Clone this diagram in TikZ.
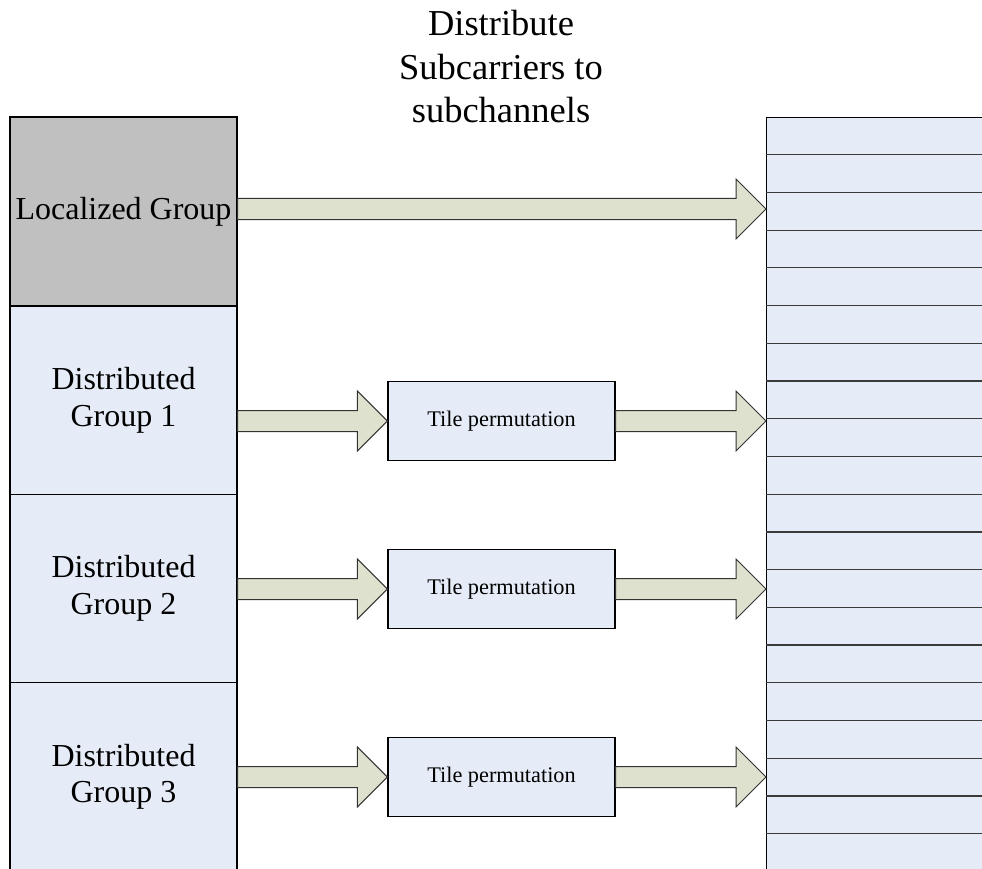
\documentclass[tikz,border=0pt]{standalone}
\usepackage{fontspec}
\setmainfont{Liberation Serif}
\usetikzlibrary{calc}
\definecolor{locgray}{HTML}{C0C0C0}
\definecolor{paleblue}{HTML}{E6ECF7}
\definecolor{arrowfill}{HTML}{DDE1CD}
\definecolor{ruleline}{HTML}{3A3A3A}
\newcommand\blockarr[2]{%
  \draw[blockarrow] let \p1=(#1), \p2=(#2) in
    (\x1,\y1+10.5pt) -- (\x2-30pt,\y1+10.5pt) -- (\x2-30pt,\y1+30pt) --
    (\x2,\y1) -- (\x2-30pt,\y1-30pt) -- (\x2-30pt,\y1-10.5pt) --
    (\x1,\y1-10.5pt) -- cycle;}
\begin{document}
\begin{tikzpicture}[x=1pt,y=-1pt,
  groupbox/.style={draw=black, line width=1.2pt, minimum width=227pt, inner sep=0pt,
    align=center, font=\fontsize{32}{36.7}\selectfont},
  tilebox/.style={draw=black, line width=1.2pt, fill=paleblue, minimum width=227pt,
    minimum height=79pt, inner sep=0pt, font=\fontsize{22.3}{26}\selectfont},
  blockarrow/.style={draw=black!80, line width=1pt, fill=arrowfill, line join=miter},
  rule/.style={draw=ruleline, line width=1.2pt},
  titletext/.style={align=center, inner sep=0pt, font=\fontsize{36.5}{43.5}\selectfont}]
\useasboundingbox (0,0) rectangle (982,869);
\clip (0,0) rectangle (982,869);
\fill[white] (0,0) rectangle (982,869);

% title
\node[titletext] (title) at (501,67) {Distribute\\Subcarriers to\\subchannels};

% left column of groups
\node[groupbox, fill=locgray, minimum height=189pt] (loc) at (123.5,211.5) {Localized Group};
\node[groupbox, fill=paleblue, minimum height=188.5pt] (dg1) at (123.5,400.25) {Distributed\\Group 1};
\node[groupbox, fill=paleblue, minimum height=188pt] (dg2) at (123.5,588.5) {Distributed\\Group 2};
\node[groupbox, fill=paleblue, minimum height=188.5pt] (dg3) at (123.5,776.75) {Distributed\\Group 3};

% right column of subchannels
\node[draw=black, line width=1.2pt, fill=paleblue, minimum width=260pt, minimum height=800pt,
  anchor=north west, inner sep=0pt] (col) at (766,117) {};
\foreach \k in {1,...,19}
  \draw[rule] (col.north west) ++(0,37.72*\k) -- ++(270,0);

% tile permutation boxes
\node[tilebox] (t1) at (501.5,421) {Tile permutation};
\node[tilebox] (t2) at (501.5,589) {Tile permutation};
\node[tilebox] (t3) at (501.5,777) {Tile permutation};

% block arrows
\coordinate (s0) at ($(loc.east)+(0,-2.5)$);
\blockarr{s0}{col.west |- s0}
\blockarr{dg1.east |- t1.west}{t1.west}
\blockarr{t1.east}{col.west |- t1.east}
\blockarr{dg2.east |- t2.west}{t2.west}
\blockarr{t2.east}{col.west |- t2.east}
\blockarr{dg3.east |- t3.west}{t3.west}
\blockarr{t3.east}{col.west |- t3.east}
\end{tikzpicture}
\end{document}
